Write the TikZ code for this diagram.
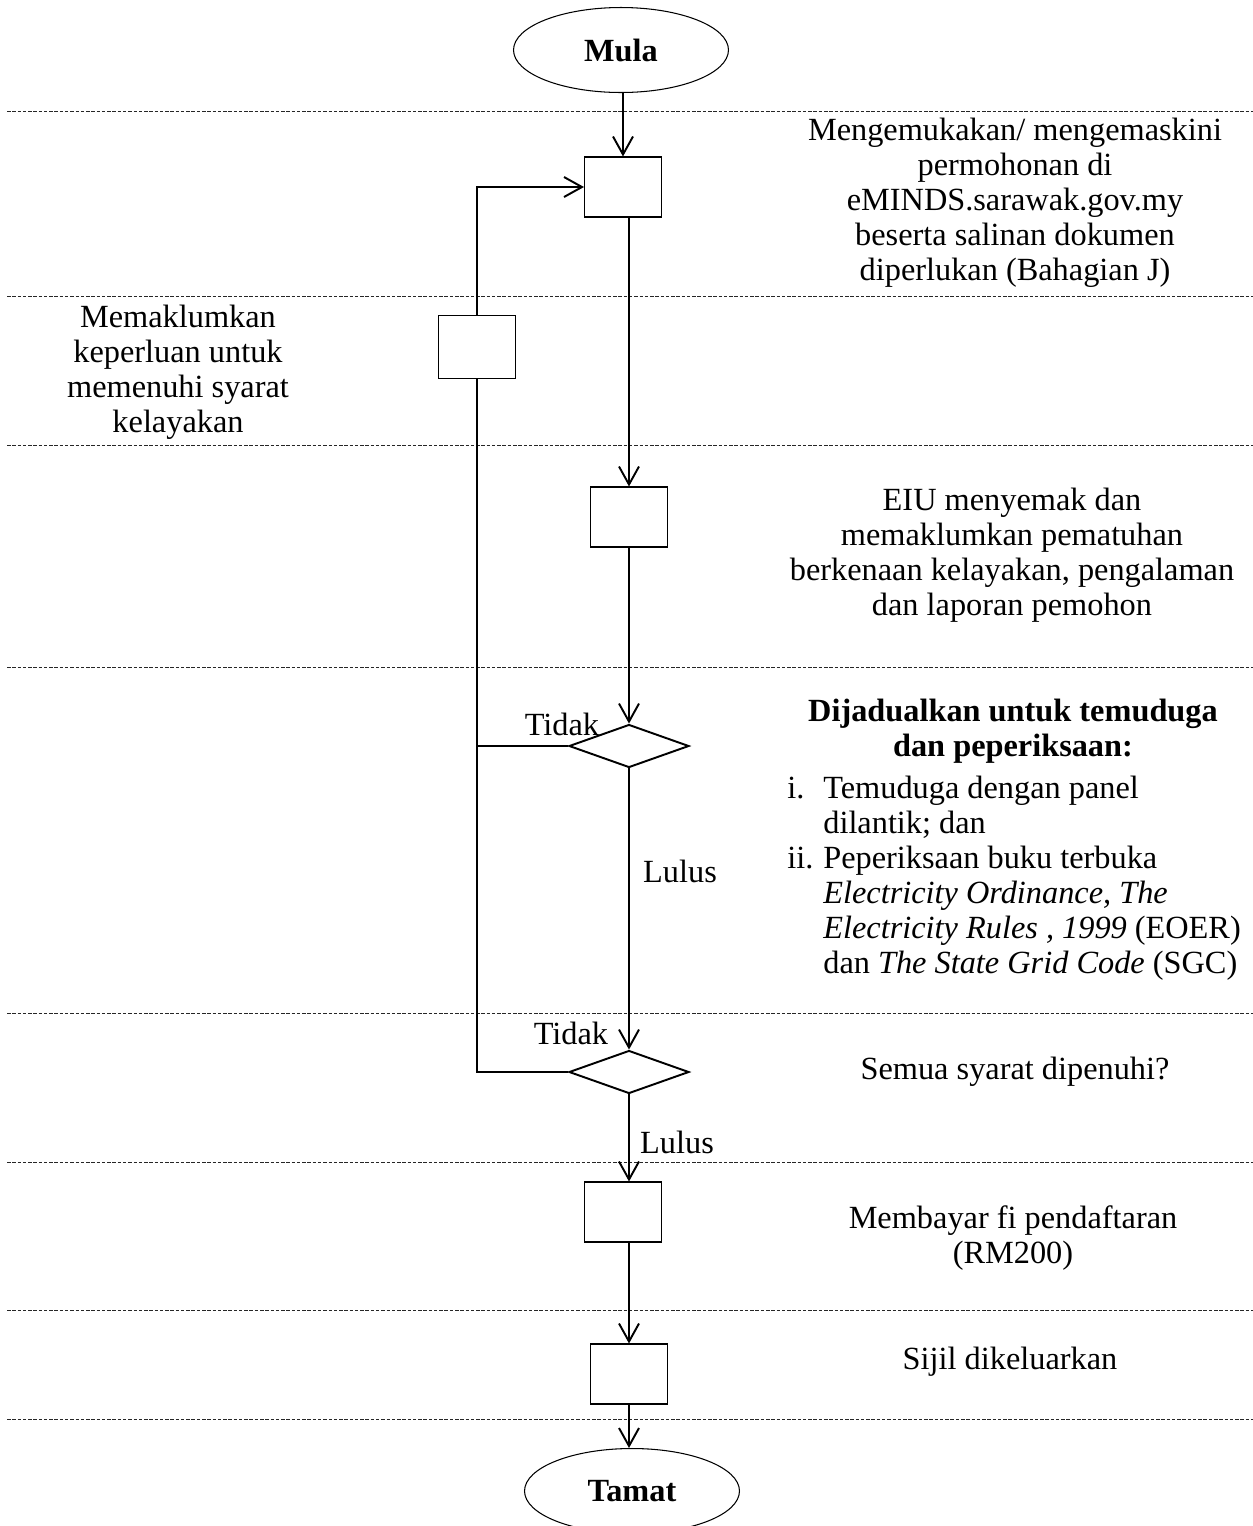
\documentclass[tikz,border=0pt]{standalone}
\usepackage{fontspec}
\setmainfont{Liberation Serif}
\usetikzlibrary{positioning}
\usetikzlibrary{shapes.geometric}
\usetikzlibrary{arrows.meta}
\newcommand{\bodyfont}{\fontsize{18.4pt}{19.9pt}\selectfont}
\tikzset{
  lane/.style={dash pattern=on 2pt off 1pt, line width=0.5pt, black!85},
  stepbox/.style={draw, minimum width=1.54cm, minimum height=1.2cm, line width=0.6pt},
  choice/.style={draw, diamond, minimum width=2.4cm, minimum height=0.86cm, inner sep=0pt, line width=1.1pt},
  terminal/.style={draw, ellipse, minimum width=4.3cm, minimum height=1.7cm, line width=0.6pt, font=\bodyfont\bfseries},
  flow/.style={line width=1.1pt, -{Straight Barb[length=0.36cm, width=0.4cm, line width=1.1pt]}},
  link/.style={line width=1.1pt},
  note/.style={align=center, font=\bodyfont},
}

\begin{document}
\begin{tikzpicture}[x=0.02cm, y=-0.02cm]
          \useasboundingbox (0,0) rectangle (1253,1526);
          \draw[lane] (7,111) -- (1253,111);
          \draw[lane] (7,296) -- (1253,296);
          \draw[lane] (7,445) -- (1253,445);
          \draw[lane] (7,667) -- (1253,667);
          \draw[lane] (7,1013) -- (1253,1013);
          \draw[lane] (7,1162) -- (1253,1162);
          \draw[lane] (7,1310) -- (1253,1310);
          \draw[lane] (7,1419) -- (1253,1419);

          \node[terminal] (mula) at (621,50) {Mula};
          \node[stepbox] (apply) at (623,187) {};
          \node[stepbox, minimum height=1.26cm] (notify) at (477,347) {};
          \node[stepbox] (check) at (629,517) {};
          \node[choice] (interview) at (629,746) {};
          \node[choice] (complete) at (629,1072) {};
          \node[stepbox] (pay) at (623,1212) {};
          \node[stepbox] (cert) at (629,1374) {};
          \node[terminal] (tamat) at (632,1491) {Tamat};

          \node[note] (applytext) at (1015,203) {Mengemukakan/ mengemaskini\\permohonan di\\eMINDS.sarawak.gov.my\\beserta salinan dokumen\\diperlukan (Bahagian J)};
          \node[note] (notifytext) at (178,372) {Memaklumkan\\keperluan untuk\\memenuhi syarat\\kelayakan};
          \node[note] (checktext) at (1012,555) {EIU menyemak dan\\memaklumkan pematuhan\\berkenaan kelayakan, pengalaman\\dan laporan pemohon};
          \node[note, font=\bodyfont\bfseries] (interviewtext) at (1013,731) {Dijadualkan untuk temuduga\\dan peperiksaan:};
          \node[anchor=west, inner sep=0pt, font=\bodyfont] (interviewlist) at (787,879) {%
            \begin{tabular}{@{}p{0.72cm}@{}l@{}}
            i. & Temuduga dengan panel\\
               & dilantik; dan\\
            ii. & Peperiksaan buku terbuka\\
               & \textit{Electricity Ordinance, The}\\
               & \textit{Electricity Rules , 1999} (EOER)\\
               & dan \textit{The State Grid Code} (SGC)
            \end{tabular}};
          \node[note] (completetext) at (1015,1072) {Semua syarat dipenuhi?};
          \node[note] (paytext) at (1013,1238) {Membayar fi pendaftaran\\(RM200)};
          \node[note] (certtext) at (1010,1362) {Sijil dikeluarkan};

          \node[note] (no1) at (562,724) {Tidak};
          \node[note] (yes1) at (680,871) {Lulus};
          \node[note] (no2) at (571,1033) {Tidak};
          \node[note] (yes2) at (677,1142) {Lulus};

          \draw[flow] (mula.south -| apply.north) -- (apply.north);
          \draw[flow] (apply.south -| check.north) -- (check.north);
          \draw[flow] (check.south) -- (interview.north);
          \draw[flow] (interview.south) -- (complete.north);
          \draw[flow] (complete.south) -- (complete.south |- pay.north);
          \draw[flow] (pay.south -| cert.north) -- (cert.north);
          \draw[flow] (cert.south) -- (cert.south |- tamat.north);

          \draw[link] (complete.west) -| (notify.south);
          \draw[link] (interview.west) -- (interview.west -| notify.south);
          \draw[flow] (notify.north) |- (apply.west);
        \end{tikzpicture}
\end{document}
